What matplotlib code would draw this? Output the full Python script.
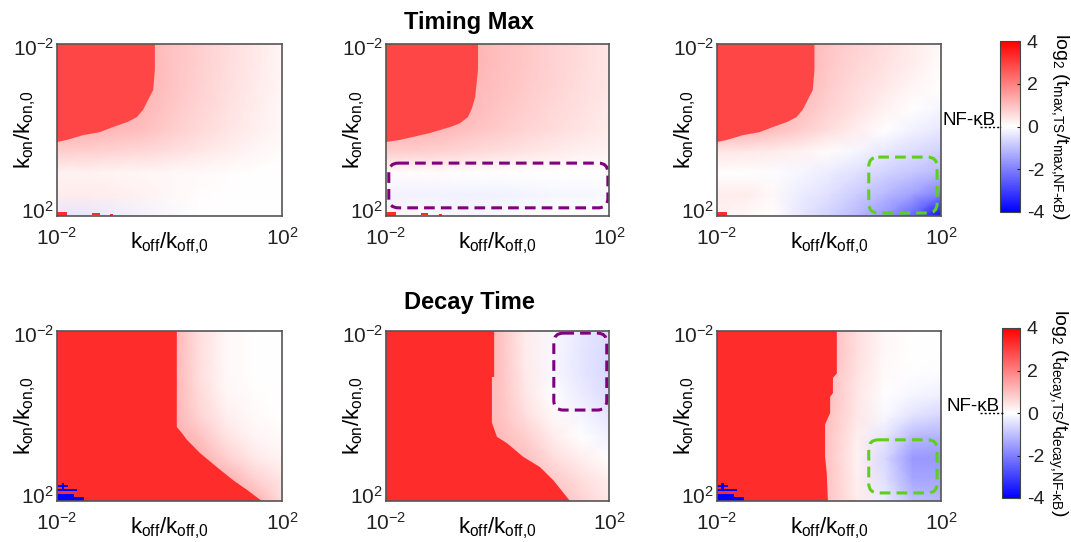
import numpy as np
import matplotlib
matplotlib.use('Agg')
import matplotlib.pyplot as plt
from matplotlib.patches import FancyBboxPatch, Rectangle
from matplotlib.colors import Normalize
from matplotlib.cm import ScalarMappable
from matplotlib.transforms import ScaledTranslation

plt.rcParams['font.family'] = ['Liberation Sans', 'DejaVu Sans']
plt.rcParams['mathtext.default'] = 'regular'

# grid nodes, log10 of k_off/k_off,0 (columns) and k_on/k_on,0 (rows)
log_koff = [-2, -1.5, -1, -0.5, 0, 0.5, 1, 1.5, 2]
log_kon = [-2, -1.5, -1, -0.5, 0, 0.5, 1, 1.5, 2]

# log2 ratio (rows = kon from 1e-2 to 1e2)
tmax_1 = [[1.2, 1.2, 1.2, 1.2, 0.95, 0.75, 0.55, 0.35, 0.15],
          [1.2, 1.2, 1.2, 1.2, 0.95, 0.75, 0.55, 0.35, 0.15],
          [1.2, 1.2, 1.2, 1.2, 0.95, 0.72, 0.52, 0.33, 0.13],
          [1.2, 1.2, 1.2, 1.15, 0.9, 0.68, 0.48, 0.3, 0.12],
          [1.2, 1.2, 1.1, 1.0, 0.8, 0.6, 0.42, 0.25, 0.1],
          [0.75, 0.72, 0.68, 0.6, 0.5, 0.38, 0.26, 0.15, 0.05],
          [0.2, 0.2, 0.18, 0.15, 0.12, 0.08, 0.04, 0.02, 0.0],
          [0.3, 0.3, 0.25, 0.2, 0.1, 0.05, 0.0, 0.0, 0.0],
          [-0.4, -0.4, -0.3, -0.2, -0.1, 0.0, 0.0, 0.0, 0.0]]
tmax_2 = [[1.2, 1.2, 1.2, 1.2, 1.0, 0.85, 0.7, 0.55, 0.4],
          [1.2, 1.2, 1.2, 1.2, 1.0, 0.85, 0.7, 0.55, 0.4],
          [1.2, 1.2, 1.2, 1.15, 0.98, 0.82, 0.67, 0.52, 0.38],
          [1.2, 1.2, 1.2, 1.1, 0.92, 0.78, 0.62, 0.48, 0.34],
          [1.2, 1.2, 1.1, 0.95, 0.82, 0.68, 0.54, 0.42, 0.3],
          [0.8, 0.75, 0.7, 0.62, 0.52, 0.42, 0.33, 0.24, 0.16],
          [0.05, 0.05, 0.05, 0.03, 0.02, 0.0, 0.0, 0.0, 0.0],
          [-0.2, -0.2, -0.2, -0.2, -0.2, -0.18, -0.15, -0.15, -0.12],
          [0.2, 0.1, -0.1, -0.15, -0.1, -0.05, 0.0, 0.0, 0.0]]
tmax_3 = [[1.2, 1.2, 1.2, 1.2, 0.9, 0.7, 0.5, 0.3, 0.1],
          [1.2, 1.2, 1.2, 1.2, 0.85, 0.65, 0.45, 0.25, 0.05],
          [1.2, 1.2, 1.2, 1.15, 0.8, 0.55, 0.35, 0.15, 0.0],
          [1.2, 1.2, 1.2, 1.0, 0.7, 0.45, 0.2, 0.0, -0.15],
          [1.2, 1.2, 1.0, 0.8, 0.5, 0.25, 0.0, -0.2, -0.35],
          [0.4, 0.35, 0.3, 0.2, 0.05, -0.15, -0.35, -0.55, -0.7],
          [0.0, 0.0, -0.05, -0.15, -0.3, -0.5, -0.7, -0.9, -1.1],
          [0.3, 0.3, 0.1, -0.3, -0.5, -0.8, -1.1, -1.5, -2.0],
          [0.2, 0.1, 0.0, -0.4, -0.7, -1.1, -1.6, -2.4, -3.8]]
tdecay_1 = [[1.3, 1.3, 1.3, 1.3, 1.3, 0.55, 0.12, 0.03, 0.0],
            [1.3, 1.3, 1.3, 1.3, 1.3, 0.55, 0.12, 0.03, 0.0],
            [1.3, 1.3, 1.3, 1.3, 1.3, 0.55, 0.12, 0.03, 0.0],
            [1.3, 1.3, 1.3, 1.3, 1.3, 0.6, 0.15, 0.05, 0.02],
            [1.3, 1.3, 1.3, 1.3, 1.3, 0.7, 0.25, 0.08, 0.03],
            [1.3, 1.3, 1.3, 1.3, 1.3, 1.0, 0.45, 0.18, 0.08],
            [1.3, 1.3, 1.3, 1.3, 1.3, 1.3, 0.75, 0.35, 0.18],
            [1.3, 1.3, 1.3, 1.3, 1.3, 1.3, 1.3, 0.75, 0.4],
            [1.3, 1.3, 1.3, 1.3, 1.3, 1.3, 1.3, 1.3, 0.55]]
tdecay_2 = [[1.1, 1.1, 1.1, 1.1, 1.0, 0.3, -0.1, -0.35, -0.55],
            [1.1, 1.1, 1.1, 1.1, 1.0, 0.3, -0.12, -0.4, -0.6],
            [1.1, 1.1, 1.1, 1.1, 1.0, 0.32, -0.1, -0.4, -0.62],
            [1.1, 1.1, 1.1, 1.1, 1.0, 0.38, -0.02, -0.3, -0.55],
            [1.1, 1.1, 1.1, 1.1, 1.0, 0.5, 0.1, -0.15, -0.4],
            [1.1, 1.1, 1.1, 1.1, 1.1, 0.75, 0.3, 0.02, -0.2],
            [1.1, 1.1, 1.1, 1.1, 1.1, 1.0, 0.55, 0.25, 0.02],
            [1.1, 1.1, 1.1, 1.1, 1.1, 1.1, 0.85, 0.5, 0.25],
            [1.1, 1.1, 1.1, 1.1, 1.1, 1.1, 1.1, 0.7, 0.4]]
tdecay_3 = [[1.1, 1.1, 1.1, 1.1, 1.1, 0.5, 0.1, 0.0, 0.0],
            [1.1, 1.1, 1.1, 1.1, 1.1, 0.5, 0.1, 0.0, 0.0],
            [1.1, 1.1, 1.1, 1.1, 1.05, 0.45, 0.08, -0.02, -0.05],
            [1.1, 1.1, 1.1, 1.1, 1.0, 0.4, 0.03, -0.15, -0.25],
            [1.1, 1.1, 1.1, 1.1, 0.95, 0.35, -0.1, -0.45, -0.65],
            [1.1, 1.1, 1.1, 1.1, 0.9, 0.25, -0.4, -1.1, -1.2],
            [1.1, 1.1, 1.1, 1.1, 0.9, 0.2, -0.6, -1.6, -1.6],
            [1.1, 1.1, 1.1, 1.1, 0.9, 0.25, -0.5, -1.4, -1.4],
            [1.1, 1.1, 1.1, 1.1, 0.9, 0.3, -0.3, -1.0, -1.1]]

# saturated regions (outline of the flat red area), log10 units
tmax_red_x = [-2.0, -0.26, -0.26, -0.29, -0.38, -0.47, -0.58, -0.74, -1.00, -1.24, -1.54, -1.82, -2.0]
tmax_red_y = [-2.0, -2.0, -1.40, -0.93, -0.70, -0.47, -0.30, -0.19, -0.07, 0.05, 0.12, 0.23, 0.28]
tmax_red_x_mid = [-2.0, -0.35, -0.35, -0.40, -0.46, -0.53, -0.68, -0.85, -1.21, -1.75, -2.0]
tmax_red_y_mid = [-2.0, -2.0, -1.40, -0.77, -0.50, -0.30, -0.15, -0.07, 0.07, 0.23, 0.28]
tdecay_red_x_1 = [-2, 0.13, 0.13, 0.22, 0.31, 0.54, 0.84, 1.13, 1.38, 1.64, -2]
tdecay_red_y_1 = [-2, -2, 0.26, 0.40, 0.56, 0.87, 1.20, 1.51, 1.74, 2.0, 2.0]
tdecay_red_x_2 = [-2, -0.06, -0.06, -0.10, -0.10, -0.01, 0.17, 0.46, 0.76, 1.0, 1.3, -2]
tdecay_red_y_2 = [-2, -2, -0.92, -0.92, 0.16, 0.49, 0.64, 0.96, 1.20, 1.51, 2.0, 2.0]
tdecay_red_x_3 = [-2, 0.14, 0.14, 0.07, 0.07, 0.02, 0.02, -0.07, -0.07, -0.04, -0.02, -2]
tdecay_red_y_3 = [-2, -2, -1.0, -0.9, -0.54, -0.45, -0.07, 0.2, 0.96, 1.34, 2.0, 2.0]
tmax_red_level = 2.9
tdecay_red_level = 3.3

# small specks near kon=1e2, koff=1e-2: (x0, x1, y0, y1, value)
tmax_specks = [(-2.0, -1.82, 1.90, 2.0, 3.3), (-1.38, -1.24, 1.93, 1.97, 3.3), (-1.05, -1.0, 1.95, 2.0, 3.3)]
tdecay_specks = [(-2.0, -1.80, 1.62, 1.68, -4), (-1.92, -1.87, 1.58, 1.76, -4),
                 (-2.0, -1.64, 1.72, 1.76, -4), (-2.0, -1.70, 1.84, 2.0, -4),
                 (-1.70, -1.52, 1.90, 2.0, -4)]

# dashed highlight boxes: (x0, x1, y0, y1, colour)
purple = '#800080'
green = '#5fcf1a'
boxes = {(0, 1): (-1.95, 1.98, 0.77, 1.81, purple),
         (0, 2): (0.71, 1.93, 0.63, 1.93, green),
         (1, 1): (1.01, 1.96, -1.95, -0.14, purple),
         (1, 2): (0.71, 1.93, 0.56, 1.81, green)}

grids = [[tmax_1, tmax_2, tmax_3], [tdecay_1, tdecay_2, tdecay_3]]
red_x = [[tmax_red_x, tmax_red_x_mid, tmax_red_x], [tdecay_red_x_1, tdecay_red_x_2, tdecay_red_x_3]]
red_y = [[tmax_red_y, tmax_red_y_mid, tmax_red_y], [tdecay_red_y_1, tdecay_red_y_2, tdecay_red_y_3]]
red_level = [tmax_red_level, tdecay_red_level]
specks = [[tmax_specks, tmax_specks, tmax_specks[:1]], [tdecay_specks, [], tdecay_specks]]
titles = ['Timing Max', 'Decay Time']
cb_labels = ['log$_2$ (t$_{max{,}TS}$/t$_{max{,}NF\u2010\u03baB}$)',
             'log$_2$ (t$_{decay{,}TS}$/t$_{decay{,}NF\u2010\u03baB}$)']

W, H = 1071, 542
fig = plt.figure(figsize=(W / 100, H / 100), dpi=100)
cmap = plt.get_cmap('bwr')
norm = Normalize(-4, 4)

col_px = [(57, 282), (386, 609), (717, 941)]
row_px = [(44, 216), (331, 501)]
cbar_px = [(1000, 1020, 41, 212), (1002, 1020, 328, 498)]
cbar_labelpad = [19, 18]
nfkb_px = [(943, 125, 127), (947, 411, 413)]
title_px = [(469, 23), (469, 303)]

for r in range(2):
    for c in range(3):
        x0, x1 = col_px[c]
        y0, y1 = row_px[r]
        ax = fig.add_axes([x0 / W, 1 - y1 / H, (x1 - x0) / W, (y1 - y0) / H])
        ax.pcolormesh(log_koff, log_kon, np.array(grids[r][c]), cmap=cmap, norm=norm,
                      shading='gouraud')
        ax.fill(red_x[r][c], red_y[r][c], color=cmap(norm(red_level[r])), lw=0)
        for sx0, sx1, sy0, sy1, v in specks[r][c]:
            ax.add_patch(Rectangle((sx0, sy0), sx1 - sx0, sy1 - sy0, color=cmap(norm(v)), lw=0))
        if (r, c) in boxes:
            bx0, bx1, by0, by1, bc = boxes[(r, c)]
            ax.add_patch(FancyBboxPatch((bx0, by0), bx1 - bx0, by1 - by0,
                                        boxstyle='round,pad=0,rounding_size=0.17',
                                        mutation_aspect=1.3, fill=False, ec=bc, lw=2.2,
                                        ls=(0, (3.5, 2))))
        ax.set_xlim(-2, 2)
        ax.set_ylim(2, -2)
        ax.set_xticks([-2, 2])
        ax.set_xticklabels(['$10^{-2}$', '$10^{2}$'])
        ax.set_yticks([-2, 2])
        ax.set_yticklabels(['$10^{-2}$', '$10^{2}$'])
        ax.tick_params(length=0, labelsize=15, colors='#222222')
        ax.tick_params(axis='x', pad=7.5)
        ax.tick_params(axis='y', pad=2)
        ylabs = ax.get_yticklabels()
        ylabs[0].set_transform(ylabs[0].get_transform() + ScaledTranslation(0, -2 / 72, fig.dpi_scale_trans))
        ylabs[1].set_transform(ylabs[1].get_transform() + ScaledTranslation(0, 4.5 / 72, fig.dpi_scale_trans))
        for s in ax.spines.values():
            s.set_color('#555555')
            s.set_linewidth(1.2)
        ax.set_xlabel('k$_{off}$/k$_{off{,}0}$', fontsize=16)
        ax.set_ylabel('k$_{on}$/k$_{on{,}0}$', fontsize=16)
        ax.xaxis.set_label_coords(0.5, -0.085)
        ax.yaxis.set_label_coords(-0.085, 0.5)

    tx, ty = title_px[r]
    fig.text(tx / W, 1 - ty / H, titles[r], fontsize=17, fontweight='bold', ha='center', va='center')

    cx0, cx1, cy0, cy1 = cbar_px[r]
    cax = fig.add_axes([cx0 / W, 1 - cy1 / H, (cx1 - cx0) / W, (cy1 - cy0) / H])
    cb = fig.colorbar(ScalarMappable(norm=norm, cmap=cmap), cax=cax, ticks=[-4, -2, 0, 2, 4])
    cb.ax.set_yticklabels(['-4', '-2', '0', '2', '4'])
    cb.ax.tick_params(labelsize=14, length=2, direction='in', colors='#222222', pad=5)
    cb.outline.set_edgecolor('#444444')
    cb.set_label(cb_labels[r], fontsize=14, rotation=-90, labelpad=cbar_labelpad[r])

    tx, ty, ly = nfkb_px[r]
    fig.text(tx / W, 1 - ty / H, 'NF-\u03baB', fontsize=13.5, ha='left', va='baseline')
    fig.add_artist(plt.Line2D([980 / W, (cx0 + 1) / W], [1 - ly / H, 1 - ly / H],
                              color='black', lw=1, ls=(0, (1.5, 1.5))))

fig.savefig('out.png', dpi=100)
